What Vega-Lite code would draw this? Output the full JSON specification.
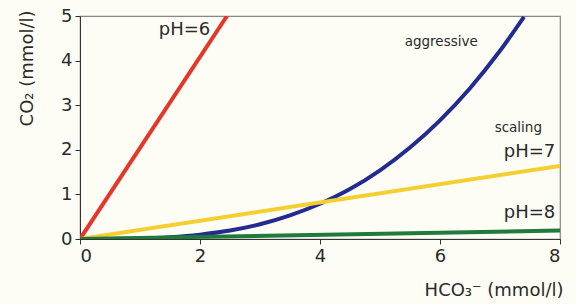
{
  "$schema": "https://vega.github.io/schema/vega-lite/v6.json",
  "autosize": "none",
  "width": 480,
  "height": 223,
  "padding": {"left": 80, "top": 16, "right": 16, "bottom": 65},
  "background": "#fdfdf5",
  "config": {
    "font": "DejaVu Sans",
    "view": {"stroke": "#888888", "strokeWidth": 1.2, "fill": "#fdfdf5"},
    "axis": {"grid": false, "domainColor": "#333333", "tickColor": "#333333", "labelColor": "#2a2a2a", "titleColor": "#2a2a2a", "labelFontSize": 18, "titleFontSize": 18, "titleFontWeight": "normal", "tickSize": 5, "labelPadding": 3}
  },
  "datasets": {
    "curves": [
      {"series": "pH6", "x": 0, "y": 0},
      {"series": "pH6", "x": 2.45, "y": 5},
      {"series": "agg", "x": 0, "y": -0.01},
      {"series": "agg", "x": 0.5, "y": 0.0},
      {"series": "agg", "x": 1, "y": 0.012},
      {"series": "agg", "x": 1.5, "y": 0.042},
      {"series": "agg", "x": 2, "y": 0.098},
      {"series": "agg", "x": 2.5, "y": 0.19},
      {"series": "agg", "x": 3, "y": 0.33},
      {"series": "agg", "x": 3.5, "y": 0.53},
      {"series": "agg", "x": 4, "y": 0.79},
      {"series": "agg", "x": 4.5, "y": 1.12},
      {"series": "agg", "x": 5, "y": 1.54},
      {"series": "agg", "x": 5.5, "y": 2.05},
      {"series": "agg", "x": 6, "y": 2.66},
      {"series": "agg", "x": 6.5, "y": 3.38},
      {"series": "agg", "x": 7, "y": 4.22},
      {"series": "agg", "x": 7.4, "y": 4.98},
      {"series": "pH7", "x": 0, "y": 0},
      {"series": "pH7", "x": 8, "y": 1.64},
      {"series": "pH8", "x": 0, "y": 0},
      {"series": "pH8", "x": 8, "y": 0.19}
    ],
    "labels": [
      {"x": 2.17, "y": 4.69, "label": "pH=6", "kind": "big"},
      {"x": 7.92, "y": 1.95, "label": "pH=7", "kind": "big"},
      {"x": 7.92, "y": 0.58, "label": "pH=8", "kind": "big"},
      {"x": 7.7, "y": 2.49, "label": "scaling", "kind": "small"},
      {"x": 6.63, "y": 4.42, "label": "aggressive", "kind": "small"}
    ]
  },
  "layer": [
    {
      "data": {"name": "curves"},
      "transform": [{"filter": "datum.series === 'pH6'"}],
      "mark": {"type": "line", "color": "#e5362a", "strokeWidth": 4, "clip": true},
      "encoding": {
        "x": {"field": "x", "type": "quantitative", "scale": {"domain": [0, 8], "nice": false}, "axis": {"values": [0, 2, 4, 6, 8], "format": "d", "title": "HCO₃⁻ (mmol/l)", "titleX": 483, "titleY": 51, "titleAlign": "right", "titleBaseline": "middle"}},
        "y": {"field": "y", "type": "quantitative", "scale": {"domain": [0, 5], "nice": false}, "axis": {"values": [0, 1, 2, 3, 4, 5], "format": "d", "title": "CO₂ (mmol/l)", "titleX": -53, "titleY": -6, "titleAngle": -90, "titleAlign": "right", "titleBaseline": "middle"}}
      }
    },
    {
      "data": {"name": "curves"},
      "transform": [{"filter": "datum.series === 'agg'"}],
      "mark": {"type": "line", "color": "#222c8f", "strokeWidth": 4, "interpolate": "monotone", "clip": true},
      "encoding": {
        "x": {"field": "x", "type": "quantitative"},
        "y": {"field": "y", "type": "quantitative"}
      }
    },
    {
      "data": {"name": "curves"},
      "transform": [{"filter": "datum.series === 'pH7'"}],
      "mark": {"type": "line", "color": "#f5cf30", "strokeWidth": 4, "clip": true},
      "encoding": {
        "x": {"field": "x", "type": "quantitative"},
        "y": {"field": "y", "type": "quantitative"}
      }
    },
    {
      "data": {"name": "curves"},
      "transform": [{"filter": "datum.series === 'pH8'"}],
      "mark": {"type": "line", "color": "#217a3b", "strokeWidth": 4, "clip": true},
      "encoding": {
        "x": {"field": "x", "type": "quantitative"},
        "y": {"field": "y", "type": "quantitative"}
      }
    },
    {
      "data": {"name": "labels"},
      "transform": [{"filter": "datum.kind === 'big'"}],
      "mark": {"type": "text", "fontSize": 18, "align": "right", "baseline": "middle", "color": "#2a2a2a"},
      "encoding": {
        "x": {"field": "x", "type": "quantitative"},
        "y": {"field": "y", "type": "quantitative"},
        "text": {"field": "label"}
      }
    },
    {
      "data": {"name": "labels"},
      "transform": [{"filter": "datum.kind === 'small'"}],
      "mark": {"type": "text", "fontSize": 13.5, "align": "right", "baseline": "middle", "color": "#2a2a2a"},
      "encoding": {
        "x": {"field": "x", "type": "quantitative"},
        "y": {"field": "y", "type": "quantitative"},
        "text": {"field": "label"}
      }
    }
  ]
}
